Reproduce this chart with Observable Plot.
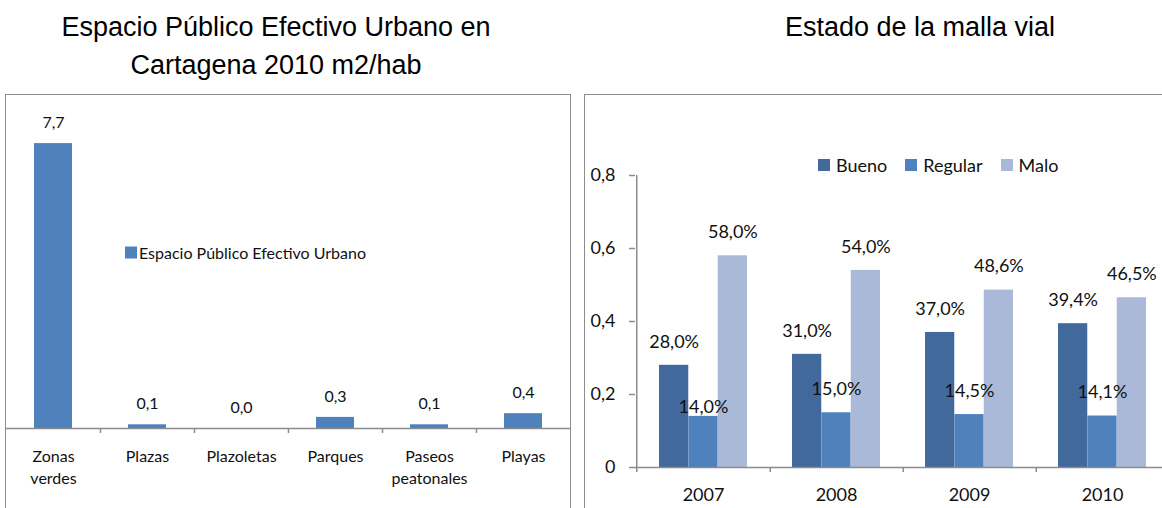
<!DOCTYPE html>
<html><head><meta charset="utf-8">
<script src="https://cdn.jsdelivr.net/npm/d3@7"></script>
<script src="https://cdn.jsdelivr.net/npm/@observablehq/plot@0.6"></script>
<style>
html,body{margin:0;padding:0;width:1162px;height:508px;overflow:hidden;background:#fff;position:relative;}
.abs{position:absolute;}
.title{font-family:"Liberation Sans",Arial,sans-serif;font-size:27px;color:#000;white-space:nowrap;transform:translate(-50%,-50%);line-height:1;}
.frame{border:1.5px solid #8c8c8c;box-sizing:border-box;}
.leg{font-family:Lato,sans-serif;display:flex;align-items:center;white-space:nowrap;color:#111;transform:translateY(-50%);}
.sw{display:inline-block;width:12px;height:12px;}
</style></head><body>
<script>
// ---- Data: Espacio Público Efectivo Urbano (m2/hab) ----
const espacioCategorias = ["Zonas\nverdes","Plazas","Plazoletas","Parques","Paseos\npeatonales","Playas"];
const espacioValores = [7.7, 0.1, 0.0, 0.3, 0.1, 0.4];
const espacioEtiquetas = ["7,7","0,1","0,0","0,3","0,1","0,4"];
const espacioSerie = "Espacio Público Efectivo Urbano";

// ---- Data: Estado de la malla vial ----
const anios = ["2007","2008","2009","2010"];
const estados = ["Bueno","Regular","Malo"];
const bueno = [0.28, 0.31, 0.37, 0.394];
const regular = [0.14, 0.15, 0.145, 0.141];
const malo = [0.58, 0.54, 0.486, 0.465];
const yTicks = [0, 0.2, 0.4, 0.6, 0.8];
const yTickLabels = ["0","0,2","0,4","0,6","0,8"];

const colores = {Bueno:"#41699C", Regular:"#4F81BD", Malo:"#AAB9D7"};
const grey = "#8c8c8c";
const fmtPct = v => (v*100).toFixed(1).replace(".", ",") + "%";

function place(el, left, top){ el.style.position="absolute"; el.style.left=left+"px"; el.style.top=top+"px"; document.body.appendChild(el); return el; }
function div(cls, html){ const d=document.createElement("div"); d.className=cls; d.innerHTML=html; return d; }

// Titles
place(div("title","Espacio Público Efectivo Urbano en"), 276, 27);
place(div("title","Cartagena 2010 m2/hab"), 276, 65);
place(div("title","Estado de la malla vial"), 920, 27);

// Frames
const f1 = div("frame",""); f1.style.width="566px"; f1.style.height="430px"; place(f1, 5, 94);
const f2 = div("frame",""); f2.style.width="620px"; f2.style.height="430px"; place(f2, 584, 94);

// ---- Left chart ----
const leftData = espacioCategorias.map((c,i)=>({cat:c, v:espacioValores[i], label:espacioEtiquetas[i]}));
const LW = 566, LML = 1, LMR = 1;
const lStep = (LW - LML - LMR) / espacioCategorias.length;
const leftPlot = Plot.plot({
  width: LW, height: 414, marginLeft: LML, marginRight: LMR, marginTop: 1, marginBottom: 80,
  x: {domain: espacioCategorias, paddingInner: 0.6, paddingOuter: 0.3, axis: null},
  y: {domain: [0, 9], axis: null},
  style: {fontFamily: "Lato, sans-serif", fontSize: "16px", color: "#111", background: "transparent", overflow: "visible"},
  marks: [
    Plot.barY(leftData, {x: "cat", y: "v", fill: "#4F81BD"}),
    Plot.ruleY([0], {stroke: grey, strokeWidth: 1.5}),
    Plot.ruleX(espacioCategorias.slice(0, -1), {x: d => d, y1: () => 0, y2: () => 0, insetBottom: -5, dx: lStep/2, stroke: grey, strokeWidth: 1.5}),
    Plot.text(leftData, {x: "cat", y: "v", text: "label", dy: -20.5, fill: "#111", fontSize: 16}),
    Plot.text(leftData, {x: "cat", y: () => 0, text: "cat", lineAnchor: "top", dy: 18, lineHeight: 1.375, fill: "#111", fontSize: 16})
  ]
});
place(leftPlot, 5, 94);

// left legend
place(div("leg", `<span class="sw" style="background:#4F81BD;margin-right:2px"></span><span style="font-size:16px">${espacioSerie}</span>`), 125, 252);

// ---- Right chart ----
const serieVals = {Bueno: bueno, Regular: regular, Malo: malo};
const rows = [];
estados.forEach(s => anios.forEach((a,i) => rows.push({anio:a, estado:s, v:serieVals[s][i]})));
const RW = 595, RML = 51, RMR = 10;
const rStep = (RW - RML - RMR) / anios.length;
const pInner = 0.34;
const groupW = rStep * (1 - pInner);
const third = groupW / 3;

const barMarks = [], labelMarks = [];
estados.forEach((s, k) => {
  const d = rows.filter(r => r.estado === s);
  barMarks.push(Plot.barY(d, {x: "anio", y: "v", fill: colores[s], insetLeft: k*third, insetRight: (2-k)*third}));
  const normal = d.filter(r => !(r.estado === "Regular" && r.anio === "2007"));
  const special = d.filter(r => r.estado === "Regular" && r.anio === "2007");
  labelMarks.push(Plot.text(normal, {x: "anio", y: "v", text: r => fmtPct(r.v), dx: (k-1)*third, dy: -23.5, fill: "#111", fontSize: 18}));
  if (special.length) labelMarks.push(Plot.text(special, {x: "anio", y: "v", text: r => fmtPct(r.v), dx: (k-1)*third, dy: -9, fill: "#111", fontSize: 18}));
});

const rightPlot = Plot.plot({
  width: RW, height: 414, marginLeft: RML, marginRight: RMR, marginTop: 81, marginBottom: 41,
  x: {domain: anios, paddingInner: pInner, paddingOuter: pInner/2, axis: null},
  y: {domain: [0, 0.8], axis: null},
  style: {fontFamily: "Lato, sans-serif", fontSize: "18px", color: "#111", background: "transparent", overflow: "visible"},
  marks: [
    ...barMarks,
    Plot.ruleY([0], {stroke: grey, strokeWidth: 1.5}),
    Plot.ruleX([anios[0]], {x: d => d, y1: () => 0.8, y2: () => 0, insetBottom: -5, dx: -rStep/2, stroke: grey, strokeWidth: 1.5}),
    Plot.ruleX(anios, {x: d => d, y1: () => 0, y2: () => 0, insetBottom: -5, dx: rStep/2, stroke: grey, strokeWidth: 1.5}),
    Plot.axisY({ticks: yTicks, tickFormat: d => yTickLabels[yTicks.indexOf(d)], tickSize: 6, tickPadding: 14, stroke: grey, strokeWidth: 1.5, fill: "#111", fontSize: 18, label: null}),
    ...labelMarks,
    Plot.text(anios, {x: d => d, y: () => 0, text: d => d, dy: 28, fill: "#111", fontSize: 18})
  ]
});
place(rightPlot, 584, 94);

// right legend
const legHtml = estados.map((s,i) => `<span class="sw" style="background:${colores[s]};margin-right:6px"></span><span style="font-size:18px;margin-right:${i<2?18:0}px">${s}</span>`).join("");
place(div("leg", legHtml), 818, 165);
</script>
</body></html>
